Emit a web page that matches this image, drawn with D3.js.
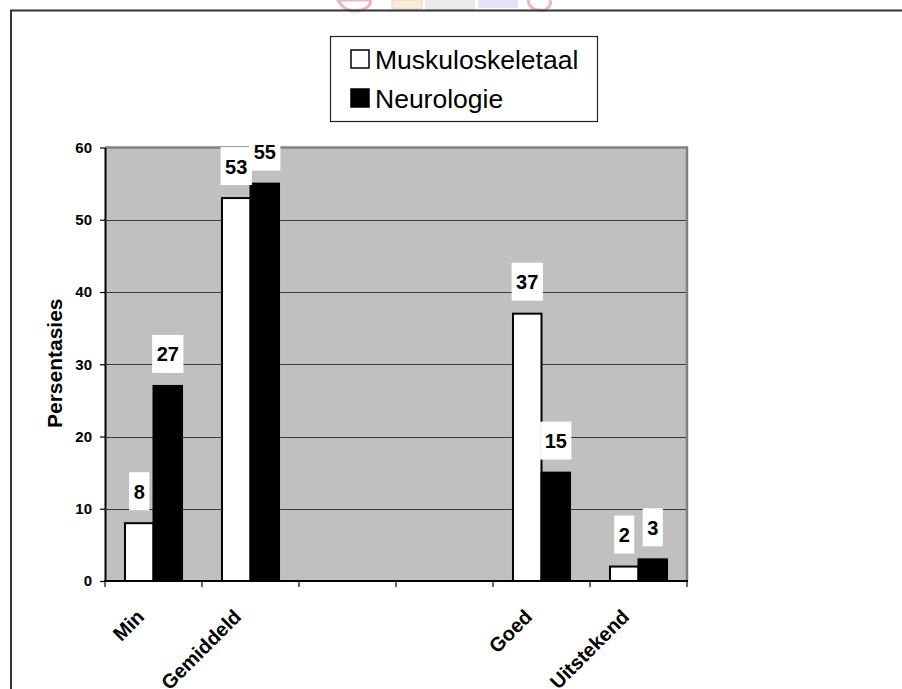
<!DOCTYPE html>
<html>
<head>
<meta charset="utf-8">
<script src="https://cdn.jsdelivr.net/npm/d3@7"></script>
<style>
  html, body { margin: 0; padding: 0; background: #fff; }
  svg { display: block; font-family: "Liberation Sans", Arial, sans-serif; }
</style>
</head>
<body>
<svg id="chart" width="902" height="689"></svg>
<script>
// ---- data ----
const categories = ["Min", "Gemiddeld", "", "", "Goed", "Uitstekend"];
const seriesNames = ["Muskuloskeletaal", "Neurologie"];
const muskuloskeletaal = [8, 53, null, null, 37, 2];
const neurologie = [27, 55, null, null, 15, 3];
const yTickValues = [0, 10, 20, 30, 40, 50, 60];
const yTitle = "Persentasies";

const seriesValues = [muskuloskeletaal, neurologie];
const seriesFill = ["#ffffff", "#000000"];
const FONT = "'Liberation Sans', Arial, sans-serif";

const svg = d3.select("#chart");

// ---- faint watermark at the top (partially visible logo) ----
const wm = svg.append("g").attr("opacity", 0.55);
wm.append("path").attr("d", "M338,0 Q345,14 362,10 Q372,6 370,0 Z").attr("fill", "none").attr("stroke", "#e07a8a").attr("stroke-width", 3);
wm.append("rect").attr("x", 392).attr("y", 0).attr("width", 30).attr("height", 9).attr("fill", "#f1dcc0").attr("stroke", "#d8b98a");
wm.append("rect").attr("x", 425).attr("y", 0).attr("width", 50).attr("height", 11).attr("fill", "#d9d9e0");
wm.append("rect").attr("x", 478).attr("y", 0).attr("width", 40).attr("height", 8).attr("fill", "#c8cff0");
wm.append("path").attr("d", "M528,0 Q530,12 545,10 Q552,6 550,0").attr("fill", "none").attr("stroke", "#e07a8a").attr("stroke-width", 3);

// ---- outer frame (top and left edges) ----
svg.append("line").attr("x1", 10).attr("x2", 902).attr("y1", 10.5).attr("y2", 10.5)
  .attr("stroke", "#333").attr("stroke-width", 2);
svg.append("line").attr("x1", 11).attr("x2", 11).attr("y1", 10).attr("y2", 689)
  .attr("stroke", "#333").attr("stroke-width", 2);

// ---- scales ----
const plot = { left: 105, right: 687, top: 147.5, bottom: 581 };
const x = d3.scaleBand().domain(d3.range(categories.length))
  .range([plot.left, plot.right]).paddingInner(0).paddingOuter(0);
const xInner = d3.scaleBand().domain(d3.range(seriesNames.length))
  .range([0, x.bandwidth()]).paddingInner(0).paddingOuter(0.7);
const y = d3.scaleLinear().domain([0, 60]).range([plot.bottom, plot.top]);

// ---- plot background ----
svg.append("rect").attr("x", plot.left).attr("y", plot.top)
  .attr("width", plot.right - plot.left).attr("height", plot.bottom - plot.top)
  .attr("fill", "#c0c0c0");

// gridlines
svg.append("g").selectAll("line").data(yTickValues.filter(v => v > 0 && v < 60)).join("line")
  .attr("x1", plot.left).attr("x2", plot.right)
  .attr("y1", d => Math.round(y(d)) + 0.5).attr("y2", d => Math.round(y(d)) + 0.5)
  .attr("stroke", "#3a3a3a").attr("stroke-width", 1);

// plot top & right border (gray)
svg.append("path")
  .attr("d", `M${plot.left},${y(60)}H${plot.right}V${plot.bottom}`)
  .attr("fill", "none").attr("stroke", "#808080").attr("stroke-width", 2.5);

// ---- bars ----
const barData = [];
categories.forEach((c, i) => {
  seriesValues.forEach((vals, s) => {
    if (vals[i] != null) barData.push({ i, s, v: vals[i] });
  });
});

svg.append("g").selectAll("rect").data(barData).join("rect")
  .attr("x", d => x(d.i) + xInner(d.s))
  .attr("y", d => y(d.v))
  .attr("width", xInner.bandwidth())
  .attr("height", d => y(0) - y(d.v))
  .attr("fill", d => seriesFill[d.s])
  .attr("stroke", "#000").attr("stroke-width", 2);

// ---- axes ----
const yAxis = svg.append("g").attr("transform", `translate(${plot.left},0)`)
  .call(d3.axisLeft(y).tickValues(yTickValues).tickSize(5).tickPadding(8).tickSizeOuter(0));
yAxis.attr("font-size", null).attr("font-family", null);
yAxis.select(".domain").attr("stroke", "#000").attr("stroke-width", 2);
yAxis.selectAll(".tick line").attr("stroke", "#000").attr("stroke-width", 1.2);
yAxis.selectAll(".tick text")
  .style("font-size", "15px").style("font-weight", "bold")
  .style("font-family", FONT).attr("fill", "#000");

// x axis baseline
svg.append("line").attr("x1", plot.left - 1).attr("x2", plot.right + 1)
  .attr("y1", y(0)).attr("y2", y(0)).attr("stroke", "#000").attr("stroke-width", 2);
// x ticks at category boundaries
svg.append("g").selectAll("line").data(d3.range(categories.length + 1)).join("line")
  .attr("x1", d => plot.left + d * x.step()).attr("x2", d => plot.left + d * x.step())
  .attr("y1", y(0)).attr("y2", y(0) + 6)
  .attr("stroke", "#000").attr("stroke-width", 1.2);
// x labels rotated
svg.append("g").selectAll("text").data(categories.map((c, i) => ({ c, i })).filter(d => d.c !== "")).join("text")
  .attr("transform", d => `translate(${x(d.i) + x.bandwidth() / 2 - 8},${y(0) + 37}) rotate(-45)`)
  .attr("text-anchor", "end")
  .style("font-size", "20px").style("font-weight", "bold").attr("fill", "#000")
  .text(d => d.c);

// y title
svg.append("text")
  .attr("transform", `translate(62,${(plot.top + plot.bottom) / 2 - 1}) rotate(-90)`)
  .attr("text-anchor", "middle")
  .style("font-size", "21px").style("font-weight", "bold").attr("fill", "#000")
  .text(yTitle);

// ---- data labels ----
const labelG = svg.append("g");
barData.forEach(d => {
  const cx = x(d.i) + xInner(d.s) + xInner.bandwidth() / 2;
  const boxBottom = y(d.v) - 13;
  const boxH = 38;
  const g = labelG.append("g");
  const rect = g.append("rect").attr("fill", "#fff");
  const t = g.append("text")
    .attr("x", cx).attr("y", boxBottom - boxH / 2 + 7.5)
    .attr("text-anchor", "middle")
    .style("font-size", "20px").style("font-weight", "bold").attr("fill", "#000")
    .text(d.v);
  const w = t.node().getComputedTextLength() + 9;
  rect.attr("x", cx - w / 2).attr("y", boxBottom - boxH).attr("width", w).attr("height", boxH);
});

// ---- legend ----
const legend = svg.append("g");
legend.append("rect").attr("x", 330.5).attr("y", 36.5).attr("width", 267).attr("height", 85)
  .attr("fill", "#fff").attr("stroke", "#222").attr("stroke-width", 1.2);
const rowBase = [69, 108];
seriesNames.forEach((name, s) => {
  legend.append("rect").attr("x", 351).attr("y", rowBase[s] - 19).attr("width", 18).attr("height", 18)
    .attr("fill", seriesFill[s]).attr("stroke", "#000").attr("stroke-width", 1.5);
  legend.append("text").attr("x", 375).attr("y", rowBase[s])
    .style("font-size", "26.5px").attr("fill", "#000").text(name);
});
</script>
</body>
</html>
